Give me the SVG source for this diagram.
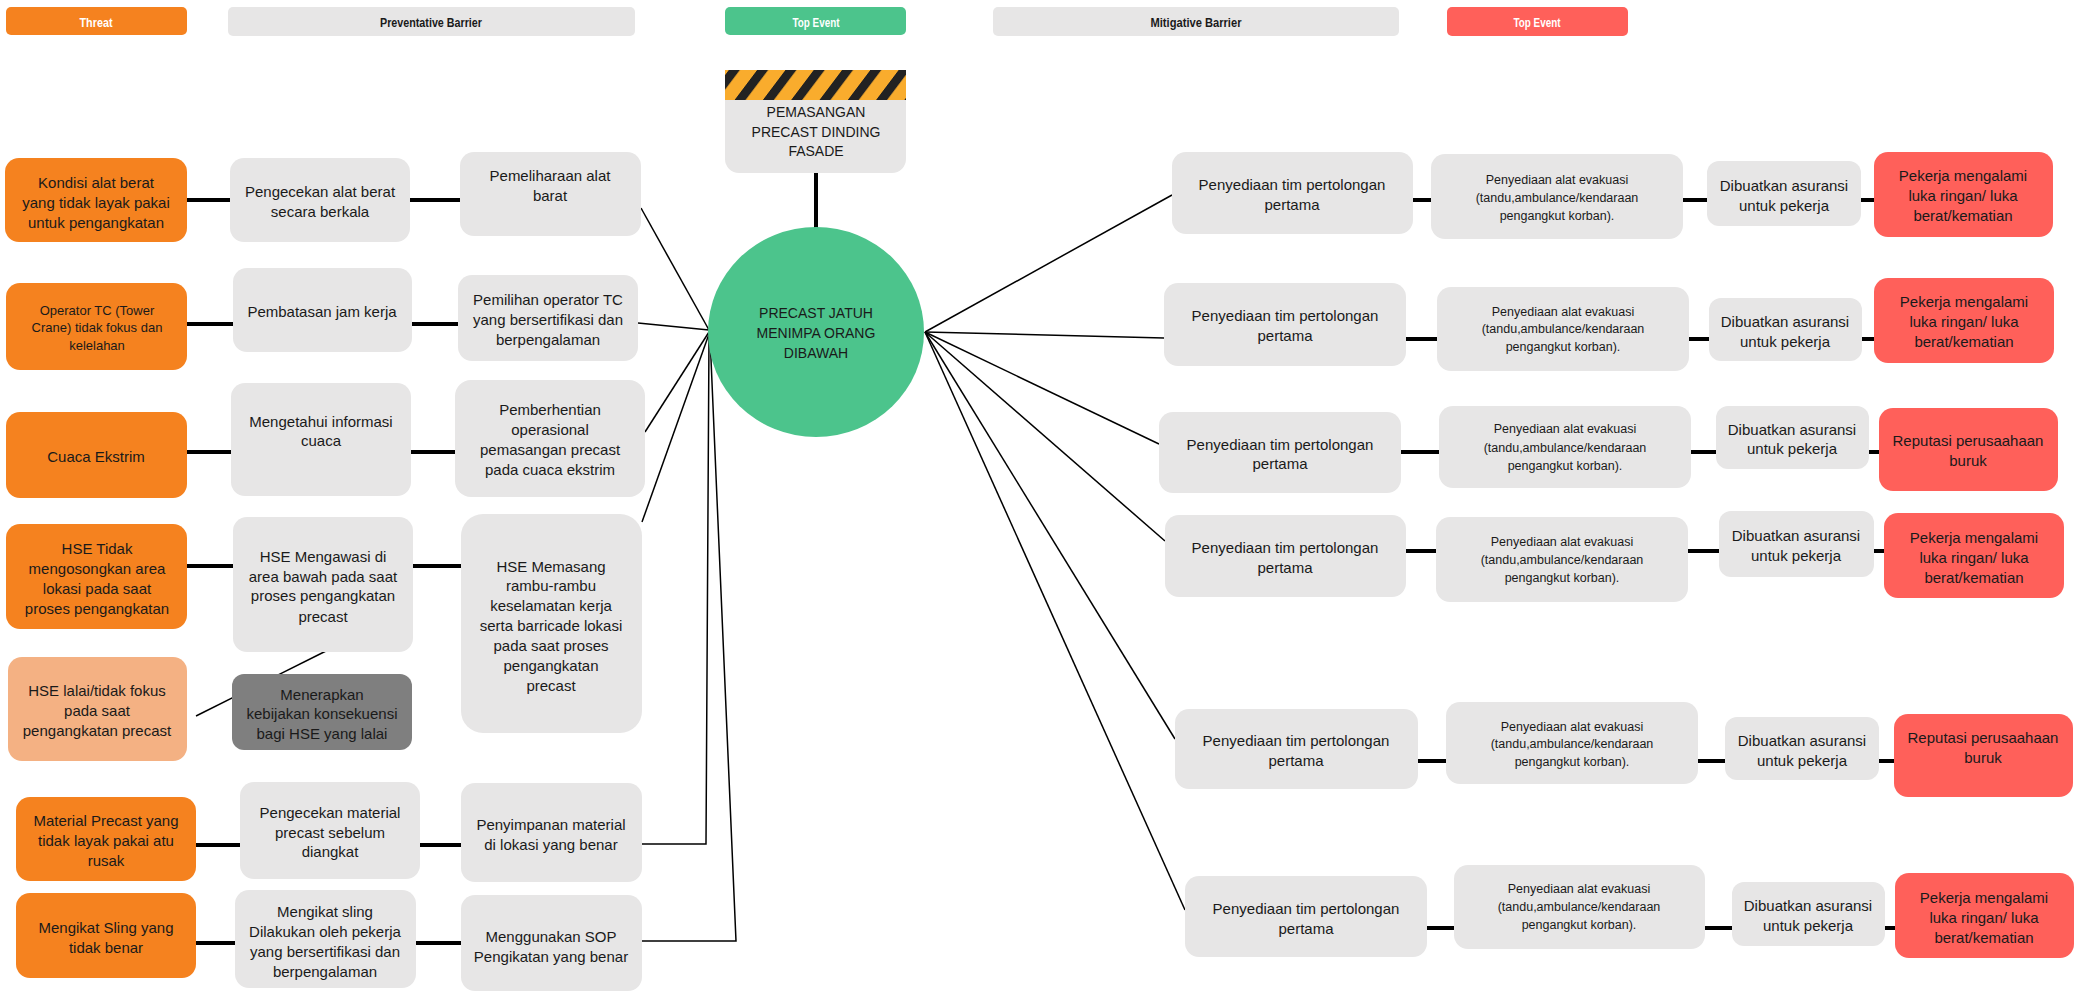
<svg xmlns="http://www.w3.org/2000/svg" width="2078" height="992" viewBox="0 0 2078 992">
<style>
.g{fill:#E7E6E6}
.o{fill:#F5821F}
.lo{fill:#F4B183}
.dg{fill:#7F7F7F}
.r{fill:#FF605A}
.grn{fill:#4CC48C}
text{font-family:"Liberation Sans",Arial,sans-serif;fill:#1a1a1a;text-anchor:middle;dominant-baseline:central}
.t{font-size:15px}
.ts{font-size:12.5px}
.tm{font-size:13px}
.tc{font-size:14px}
.h{font-size:13px;font-weight:bold}
.hw{fill:#ffffff}
.thick{stroke:#000;stroke-width:4;fill:none}
.thin{stroke:#000;stroke-width:1.5;fill:none}
</style>
<defs>
<pattern id="stripes" patternUnits="userSpaceOnUse" x="725" y="70" width="28.3" height="30" patternTransform="skewX(-37)">
<rect x="0" y="0" width="28.3" height="30" fill="#F9AC2D"/>
<rect x="0" y="0" width="11" height="30" fill="#222222"/>
</pattern>
</defs>
<rect width="2078" height="992" fill="#ffffff"/>

<g id="headers">
<rect class="o" x="6" y="7" width="181" height="28" rx="5"/>
<text class="h hw" x="96" y="22" textLength="33" lengthAdjust="spacingAndGlyphs">Threat</text>
<rect class="g" x="228" y="7" width="407" height="29" rx="5"/>
<text class="h" x="431" y="22" textLength="102" lengthAdjust="spacingAndGlyphs">Preventative Barrier</text>
<rect class="grn" x="725" y="7" width="181" height="28" rx="5"/>
<text class="h hw" x="816" y="22" textLength="47" lengthAdjust="spacingAndGlyphs">Top Event</text>
<rect class="g" x="993" y="7" width="406" height="29" rx="5"/>
<text class="h" x="1196" y="22" textLength="91" lengthAdjust="spacingAndGlyphs">Mitigative Barrier</text>
<rect class="r" x="1447" y="7" width="181" height="29" rx="5"/>
<text class="h hw" x="1537" y="22" textLength="47" lengthAdjust="spacingAndGlyphs">Top Event</text>
</g>

<g id="connectors">
<line class="thick" x1="816" y1="173" x2="816" y2="228"/>
<line class="thick" x1="187" y1="200" x2="230" y2="200"/>
<line class="thick" x1="410" y1="200" x2="460" y2="200"/>
<line class="thick" x1="187" y1="324" x2="233" y2="324"/>
<line class="thick" x1="412" y1="324" x2="458" y2="324"/>
<line class="thick" x1="187" y1="452" x2="231" y2="452"/>
<line class="thick" x1="411" y1="452" x2="455" y2="452"/>
<line class="thick" x1="187" y1="566" x2="233" y2="566"/>
<line class="thick" x1="413" y1="566" x2="461" y2="566"/>
<line class="thick" x1="196" y1="845" x2="240" y2="845"/>
<line class="thick" x1="420" y1="845" x2="461" y2="845"/>
<line class="thick" x1="196" y1="943" x2="235" y2="943"/>
<line class="thick" x1="416" y1="943" x2="461" y2="943"/>
<line class="thin" x1="196" y1="716" x2="326" y2="651"/>
<line class="thin" x1="641" y1="208" x2="709" y2="330"/>
<line class="thin" x1="638" y1="323" x2="709" y2="330"/>
<line class="thin" x1="645" y1="432" x2="709" y2="332"/>
<line class="thin" x1="642" y1="522" x2="709" y2="334"/>
<polyline class="thin" points="642,844 706,844 709,336"/>
<polyline class="thin" points="642,941 736,941 710,336"/>
<line class="thin" x1="925" y1="332" x2="1172" y2="195"/>
<line class="thin" x1="925" y1="332" x2="1164" y2="338"/>
<line class="thin" x1="925" y1="332" x2="1159" y2="444"/>
<line class="thin" x1="925" y1="332" x2="1165" y2="541"/>
<line class="thin" x1="925" y1="332" x2="1175" y2="739"/>
<line class="thin" x1="925" y1="332" x2="1185" y2="910"/>
<line class="thick" x1="1413" y1="200" x2="1431" y2="200"/>
<line class="thick" x1="1683" y1="200" x2="1707" y2="200"/>
<line class="thick" x1="1861" y1="200" x2="1874" y2="200"/>
<line class="thick" x1="1406" y1="339" x2="1437" y2="339"/>
<line class="thick" x1="1689" y1="339" x2="1709" y2="339"/>
<line class="thick" x1="1862" y1="339" x2="1874" y2="339"/>
<line class="thick" x1="1401" y1="452" x2="1439" y2="452"/>
<line class="thick" x1="1691" y1="452" x2="1716" y2="452"/>
<line class="thick" x1="1869" y1="452" x2="1879" y2="452"/>
<line class="thick" x1="1406" y1="551" x2="1436" y2="551"/>
<line class="thick" x1="1688" y1="551" x2="1719" y2="551"/>
<line class="thick" x1="1874" y1="551" x2="1884" y2="551"/>
<line class="thick" x1="1418" y1="761" x2="1446" y2="761"/>
<line class="thick" x1="1698" y1="761" x2="1725" y2="761"/>
<line class="thick" x1="1879" y1="761" x2="1894" y2="761"/>
<line class="thick" x1="1427" y1="928" x2="1454" y2="928"/>
<line class="thick" x1="1705" y1="928" x2="1732" y2="928"/>
<line class="thick" x1="1885" y1="928" x2="1895" y2="928"/>
</g>

<g id="hazard">
<rect class="g" x="725" y="70" width="181" height="103" rx="14"/>
<rect x="725" y="70" width="181" height="30" fill="url(#stripes)"/>
<text class="tc" x="816" y="112">PEMASANGAN</text>
<text class="tc" x="816" y="132">PRECAST DINDING</text>
<text class="tc" x="816" y="151">FASADE</text>
</g>

<g id="top-event">
<ellipse class="grn" cx="816" cy="332" rx="108" ry="105"/>
<text class="tc" x="816" y="313">PRECAST JATUH</text>
<text class="tc" x="816" y="333">MENIMPA ORANG</text>
<text class="tc" x="816" y="353">DIBAWAH</text>
</g>

<g id="threat-1"><rect class="o" x="5" y="158" width="182" height="84" rx="14"/>
<text class="t" x="96" y="182">Kondisi alat berat</text><text class="t" x="96" y="202">yang tidak layak pakai</text><text class="t" x="96" y="222">untuk pengangkatan</text></g>
<g id="threat-2"><rect class="o" x="6" y="283" width="181" height="87" rx="14"/>
<text class="tm" x="97" y="310">Operator TC (Tower</text><text class="tm" x="97" y="327">Crane) tidak fokus dan</text><text class="tm" x="97" y="345">kelelahan</text></g>
<g id="threat-3"><rect class="o" x="6" y="412" width="181" height="86" rx="14"/>
<text class="t" x="96" y="456">Cuaca Ekstrim</text></g>
<g id="threat-4"><rect class="o" x="6" y="524" width="181" height="105" rx="14"/>
<text class="t" x="97" y="548">HSE Tidak</text><text class="t" x="97" y="568">mengosongkan area</text><text class="t" x="97" y="588">lokasi pada saat</text><text class="t" x="97" y="608">proses  pengangkatan</text></g>
<g id="threat-5"><rect class="lo" x="8" y="657" width="179" height="104" rx="14"/>
<text class="t" x="97" y="690">HSE lalai/tidak fokus</text><text class="t" x="97" y="710">pada saat</text><text class="t" x="97" y="730">pengangkatan precast</text></g>
<g id="threat-6"><rect class="o" x="16" y="797" width="180" height="84" rx="14"/>
<text class="t" x="106" y="820">Material Precast  yang</text><text class="t" x="106" y="840">tidak layak pakai atu</text><text class="t" x="106" y="860">rusak</text></g>
<g id="threat-7"><rect class="o" x="16" y="893" width="180" height="85" rx="14"/>
<text class="t" x="106" y="927">Mengikat Sling yang</text><text class="t" x="106" y="947">tidak benar</text></g>

<g id="barrier-1a"><rect class="g" x="230" y="158" width="180" height="84" rx="14"/>
<text class="t" x="320" y="191">Pengecekan alat berat</text><text class="t" x="320" y="211">secara berkala</text></g>
<g id="barrier-2a"><rect class="g" x="233" y="268" width="179" height="84" rx="14"/>
<text class="t" x="322" y="311">Pembatasan jam kerja</text></g>
<g id="barrier-3a"><rect class="g" x="231" y="383" width="180" height="113" rx="14"/>
<text class="t" x="321" y="421">Mengetahui informasi</text><text class="t" x="321" y="440">cuaca</text></g>
<g id="barrier-4a"><rect class="g" x="233" y="517" width="180" height="135" rx="14"/>
<text class="t" x="323" y="556">HSE Mengawasi di</text><text class="t" x="323" y="576">area bawah pada saat</text><text class="t" x="323" y="595">proses pengangkatan</text><text class="t" x="323" y="616">precast</text></g>
<g id="barrier-5a"><rect class="dg" x="232" y="674" width="180" height="76" rx="12"/>
<text class="t" x="322" y="694">Menerapkan</text><text class="t" x="322" y="713">kebijakan konsekuensi</text><text class="t" x="322" y="733">bagi HSE yang lalai</text></g>
<g id="barrier-6a"><rect class="g" x="240" y="782" width="180" height="97" rx="14"/>
<text class="t" x="330" y="812">Pengecekan material</text><text class="t" x="330" y="832">precast sebelum</text><text class="t" x="330" y="851">diangkat</text></g>
<g id="barrier-7a"><rect class="g" x="235" y="890" width="181" height="98" rx="14"/>
<text class="t" x="325" y="911">Mengikat sling</text><text class="t" x="325" y="931">Dilakukan oleh pekerja</text><text class="t" x="325" y="951">yang bersertifikasi dan</text><text class="t" x="325" y="971">berpengalaman</text></g>

<g id="barrier-1b"><rect class="g" x="460" y="152" width="181" height="84" rx="14"/>
<text class="t" x="550" y="175">Pemeliharaan alat</text><text class="t" x="550" y="195">barat</text></g>
<g id="barrier-2b"><rect class="g" x="458" y="275" width="180" height="86" rx="14"/>
<text class="t" x="548" y="299">Pemilihan operator TC</text><text class="t" x="548" y="319">yang bersertifikasi dan</text><text class="t" x="548" y="339">berpengalaman</text></g>
<g id="barrier-3b"><rect class="g" x="455" y="380" width="190" height="117" rx="16"/>
<text class="t" x="550" y="409">Pemberhentian</text><text class="t" x="550" y="429">operasional</text><text class="t" x="550" y="449">pemasangan precast</text><text class="t" x="550" y="469">pada cuaca ekstrim</text></g>
<g id="barrier-4b"><rect class="g" x="461" y="514" width="181" height="219" rx="22"/>
<text class="t" x="551" y="566">HSE Memasang</text><text class="t" x="551" y="585">rambu-rambu</text><text class="t" x="551" y="605">keselamatan kerja</text><text class="t" x="551" y="625">serta barricade lokasi</text><text class="t" x="551" y="645">pada saat proses</text><text class="t" x="551" y="665">pengangkatan</text><text class="t" x="551" y="685">precast</text></g>
<g id="barrier-5b"><rect class="g" x="461" y="783" width="181" height="99" rx="14"/>
<text class="t" x="551" y="824">Penyimpanan material</text><text class="t" x="551" y="844">di lokasi yang benar</text></g>
<g id="barrier-6b"><rect class="g" x="461" y="895" width="181" height="96" rx="14"/>
<text class="t" x="551" y="936">Menggunakan SOP</text><text class="t" x="551" y="956">Pengikatan yang benar</text></g>

<g id="mit-row-1">
<g id="m1-p"><rect class="g" x="1172" y="152" width="241" height="82" rx="14"/><text class="t" x="1292" y="184">Penyediaan tim pertolongan</text><text class="t" x="1292" y="204">pertama</text></g>
<g id="m1-a"><rect class="g" x="1431" y="154" width="252" height="85" rx="14"/><text class="ts" x="1557" y="180">Penyediaan  alat evakuasi</text><text class="ts" x="1557" y="198">(tandu,ambulance/kendaraan</text><text class="ts" x="1557" y="216">pengangkut korban).</text></g>
<g id="m1-d"><rect class="g" x="1707" y="161" width="154" height="65" rx="12"/><text class="t" x="1784" y="185">Dibuatkan asuransi</text><text class="t" x="1784" y="205">untuk pekerja</text></g>
<g id="m1-r"><rect class="r" x="1874" y="152" width="179" height="85" rx="14"/><text class="t" x="1963" y="175">Pekerja mengalami</text><text class="t" x="1963" y="195">luka ringan/ luka</text><text class="t" x="1963" y="215">berat/kematian</text></g>
</g>
<g id="mit-row-2">
<g id="m2-p"><rect class="g" x="1164" y="283" width="242" height="83" rx="14"/><text class="t" x="1285" y="315">Penyediaan tim pertolongan</text><text class="t" x="1285" y="335">pertama</text></g>
<g id="m2-a"><rect class="g" x="1437" y="287" width="252" height="84" rx="14"/><text class="ts" x="1563" y="312">Penyediaan  alat evakuasi</text><text class="ts" x="1563" y="329">(tandu,ambulance/kendaraan</text><text class="ts" x="1563" y="347">pengangkut korban).</text></g>
<g id="m2-d"><rect class="g" x="1709" y="298" width="153" height="63" rx="12"/><text class="t" x="1785" y="321">Dibuatkan asuransi</text><text class="t" x="1785" y="341">untuk pekerja</text></g>
<g id="m2-r"><rect class="r" x="1874" y="278" width="180" height="85" rx="14"/><text class="t" x="1964" y="301">Pekerja mengalami</text><text class="t" x="1964" y="321">luka ringan/ luka</text><text class="t" x="1964" y="341">berat/kematian</text></g>
</g>
<g id="mit-row-3">
<g id="m3-p"><rect class="g" x="1159" y="412" width="242" height="81" rx="14"/><text class="t" x="1280" y="444">Penyediaan tim pertolongan</text><text class="t" x="1280" y="463">pertama</text></g>
<g id="m3-a"><rect class="g" x="1439" y="406" width="252" height="82" rx="14"/><text class="ts" x="1565" y="429">Penyediaan  alat evakuasi</text><text class="ts" x="1565" y="448">(tandu,ambulance/kendaraan</text><text class="ts" x="1565" y="466">pengangkut korban).</text></g>
<g id="m3-d"><rect class="g" x="1716" y="406" width="153" height="63" rx="12"/><text class="t" x="1792" y="429">Dibuatkan asuransi</text><text class="t" x="1792" y="448">untuk pekerja</text></g>
<g id="m3-r"><rect class="r" x="1879" y="408" width="179" height="83" rx="14"/><text class="t" x="1968" y="440">Reputasi perusaahaan</text><text class="t" x="1968" y="460">buruk</text></g>
</g>
<g id="mit-row-4">
<g id="m4-p"><rect class="g" x="1165" y="515" width="241" height="82" rx="14"/><text class="t" x="1285" y="547">Penyediaan tim pertolongan</text><text class="t" x="1285" y="567">pertama</text></g>
<g id="m4-a"><rect class="g" x="1436" y="517" width="252" height="85" rx="14"/><text class="ts" x="1562" y="542">Penyediaan  alat evakuasi</text><text class="ts" x="1562" y="560">(tandu,ambulance/kendaraan</text><text class="ts" x="1562" y="578">pengangkut korban).</text></g>
<g id="m4-d"><rect class="g" x="1719" y="511" width="155" height="66" rx="12"/><text class="t" x="1796" y="535">Dibuatkan asuransi</text><text class="t" x="1796" y="555">untuk pekerja</text></g>
<g id="m4-r"><rect class="r" x="1884" y="513" width="180" height="85" rx="14"/><text class="t" x="1974" y="537">Pekerja mengalami</text><text class="t" x="1974" y="557">luka ringan/ luka</text><text class="t" x="1974" y="577">berat/kematian</text></g>
</g>
<g id="mit-row-5">
<g id="m5-p"><rect class="g" x="1175" y="709" width="243" height="80" rx="14"/><text class="t" x="1296" y="740">Penyediaan tim pertolongan</text><text class="t" x="1296" y="760">pertama</text></g>
<g id="m5-a"><rect class="g" x="1446" y="702" width="252" height="82" rx="14"/><text class="ts" x="1572" y="727">Penyediaan  alat evakuasi</text><text class="ts" x="1572" y="744">(tandu,ambulance/kendaraan</text><text class="ts" x="1572" y="762">pengangkut korban).</text></g>
<g id="m5-d"><rect class="g" x="1725" y="717" width="154" height="63" rx="12"/><text class="t" x="1802" y="740">Dibuatkan asuransi</text><text class="t" x="1802" y="760">untuk pekerja</text></g>
<g id="m5-r"><rect class="r" x="1894" y="714" width="179" height="83" rx="14"/><text class="t" x="1983" y="737">Reputasi perusaahaan</text><text class="t" x="1983" y="757">buruk</text></g>
</g>
<g id="mit-row-6">
<g id="m6-p"><rect class="g" x="1185" y="876" width="242" height="81" rx="14"/><text class="t" x="1306" y="908">Penyediaan tim pertolongan</text><text class="t" x="1306" y="928">pertama</text></g>
<g id="m6-a"><rect class="g" x="1454" y="865" width="251" height="84" rx="14"/><text class="ts" x="1579" y="889">Penyediaan  alat evakuasi</text><text class="ts" x="1579" y="907">(tandu,ambulance/kendaraan</text><text class="ts" x="1579" y="925">pengangkut korban).</text></g>
<g id="m6-d"><rect class="g" x="1732" y="882" width="153" height="64" rx="12"/><text class="t" x="1808" y="905">Dibuatkan asuransi</text><text class="t" x="1808" y="925">untuk pekerja</text></g>
<g id="m6-r"><rect class="r" x="1895" y="873" width="179" height="85" rx="14"/><text class="t" x="1984" y="897">Pekerja mengalami</text><text class="t" x="1984" y="917">luka ringan/ luka</text><text class="t" x="1984" y="937">berat/kematian</text></g>
</g>
</svg>
